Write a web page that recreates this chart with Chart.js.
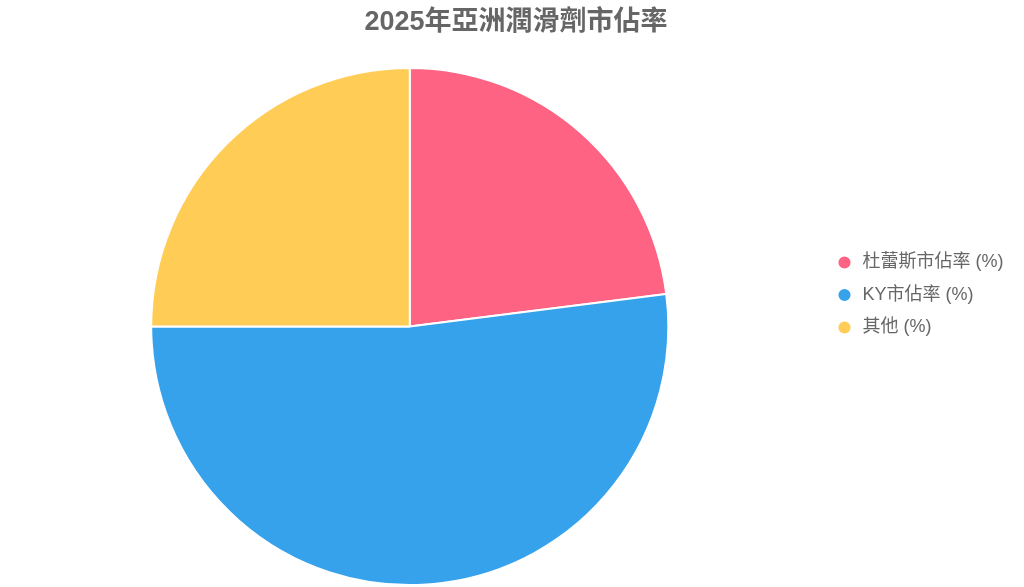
<!DOCTYPE html>
<html>
<head>
<meta charset="utf-8">
<script src="https://cdn.jsdelivr.net/npm/chart.js@4"></script>
<style>
  html, body { margin: 0; padding: 0; background: #fff; }
  #wrap { width: 1024px; height: 587px; }
</style>
</head>
<body>
<div id="wrap"><canvas id="chart"></canvas></div>
<script>
const labels = ['杜蕾斯市佔率 (%)', 'KY市佔率 (%)', '其他 (%)'];
const shares = [23, 52, 25];
const colors = ['#FF6384', '#36A2EB', '#FFCD56'];

Chart.defaults.font.family = '"Helvetica Neue", Helvetica, Arial, "Noto Sans CJK TC", sans-serif';

// widen the legend box a bit and nudge its items, like the original layout
const legendSpacing = {
  id: 'legendSpacing',
  beforeInit(chart) {
    const legend = chart.legend;
    const fit = legend.fit;
    legend.fit = function () {
      fit.call(this);
      this.width += 20;
    };
    const draw = legend.draw;
    legend.draw = function () {
      this.ctx.save();
      this.ctx.translate(9.5, 2);
      draw.call(this);
      this.ctx.restore();
    };
  }
};

new Chart(document.getElementById('chart'), {
  type: 'pie',
  data: {
    labels: labels,
    datasets: [{
      data: shares,
      backgroundColor: colors,
      borderColor: '#fff',
      borderWidth: 2
    }]
  },
  options: {
    responsive: true,
    maintainAspectRatio: false,
    animation: false,
    layout: { padding: { bottom: 1, left: 8, right: 0 } },
    plugins: {
      title: {
        display: true,
        text: '2025年亞洲潤滑劑市佔率',
        color: '#666',
        font: { size: 27, weight: 'bold' },
        padding: { top: 6, bottom: 28.5 }
      },
      legend: {
        position: 'right',
        labels: {
          color: '#666',
          usePointStyle: true,
          pointStyle: 'circle',
          boxWidth: 18,
          boxHeight: 10,
          padding: 14.5,
          font: { size: 18 }
        }
      },
      tooltip: { enabled: false }
    }
  },
  plugins: [legendSpacing]
});
</script>
</body>
</html>
